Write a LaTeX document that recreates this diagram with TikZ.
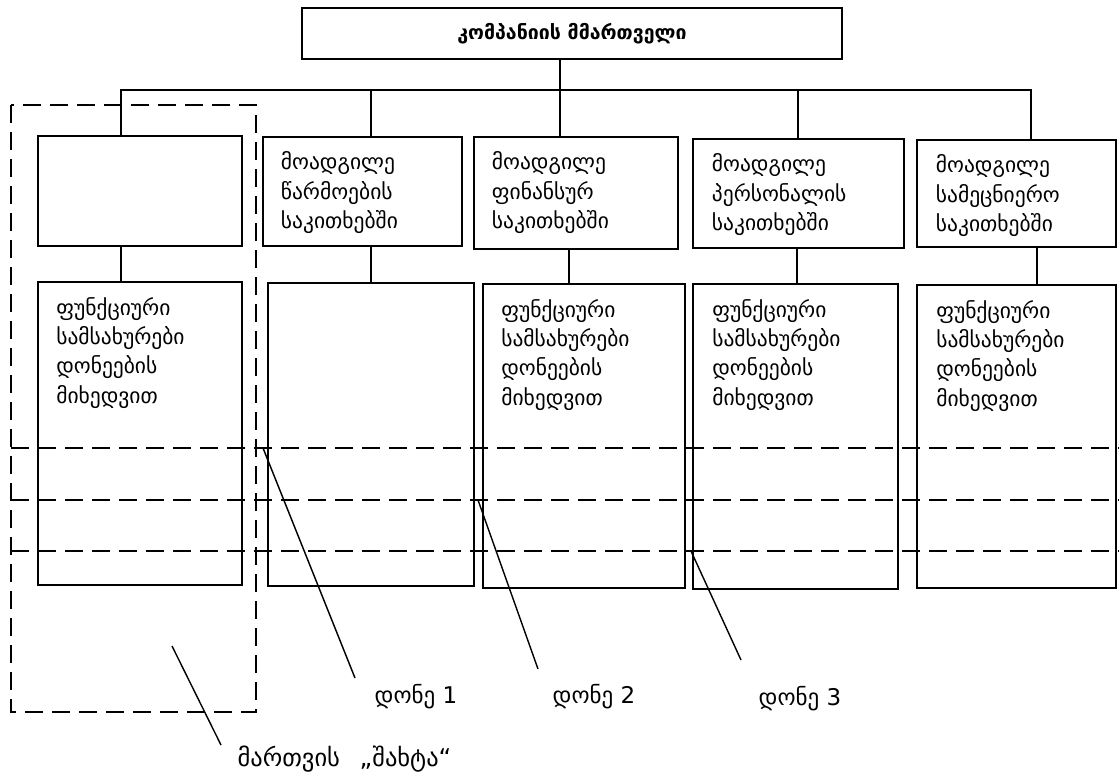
\documentclass[tikz,border=0pt]{standalone}
\usepackage{fontspec}
\setmainfont{DejaVu Sans}
\begin{document}
\begin{tikzpicture}[x=1pt,y=-1pt,
  ubox/.style={draw, line width=2.6pt, inner sep=0pt},
  lbox/.style={draw, line width=1.8pt, inner sep=0pt},
  conn/.style={line width=1.5pt},
  lvl/.style={line width=1.8pt, dash pattern=on 18pt off 9pt},
  lead/.style={line width=1.4pt},
  txt/.style={align=left, inner sep=0pt, anchor=north west, font=\fontsize{21.5}{29.3}\selectfont},
  lab/.style={inner sep=0pt, font=\fontsize{23}{26}\selectfont}]
\useasboundingbox (0,0) rectangle (1119,773);

% top box
\node[ubox, minimum width=540pt, minimum height=51pt, font=\bfseries\fontsize{19.5}{22}\selectfont] (top) at (572,33.5) {კომპანიის მმართველი};

% upper row
\node[ubox, minimum width=204pt, minimum height=110pt] (u1) at (140,191) {};
\node[ubox, minimum width=199pt, minimum height=109pt] (u2) at (362.5,191.5) {};
\node[ubox, minimum width=204pt, minimum height=112pt] (u3) at (576,193) {};
\node[ubox, minimum width=211pt, minimum height=109pt] (u4) at (798.5,193.5) {};
\node[ubox, minimum width=199pt, minimum height=107pt] (u5) at (1016.5,193.5) {};

% lower row
\node[lbox, minimum width=204pt, minimum height=303pt] (l1) at (140,433.5) {};
\node[lbox, minimum width=206pt, minimum height=303pt] (l2) at (371,434.5) {};
\node[lbox, minimum width=202pt, minimum height=304pt] (l3) at (584,436) {};
\node[lbox, minimum width=205pt, minimum height=305pt] (l4) at (795.5,436.5) {};
\node[lbox, minimum width=199pt, minimum height=303pt] (l5) at (1016.5,436.5) {};

% texts
\node[txt] (tu2) at ([shift={(19,16)}]u2.north west) {მოადგილე\\წარმოების\\საკითხებში};
\node[txt] (tu3) at ([shift={(19,16)}]u3.north west) {მოადგილე\\ფინანსურ\\საკითხებში};
\node[txt] (tu4) at ([shift={(20,16)}]u4.north west) {მოადგილე\\პერსონალის\\საკითხებში};
\node[txt] (tu5) at ([shift={(20,16)}]u5.north west) {მოადგილე\\სამეცნიერო\\საკითხებში};
\node[txt] (tl1) at ([shift={(19,16)}]l1.north west) {ფუნქციური\\სამსახურები\\დონეების\\მიხედვით};
\node[txt] (tl3) at ([shift={(19,16)}]l3.north west) {ფუნქციური\\სამსახურები\\დონეების\\მიხედვით};
\node[txt] (tl4) at ([shift={(20,16)}]l4.north west) {ფუნქციური\\სამსახურები\\დონეების\\მიხედვით};
\node[txt] (tl5) at ([shift={(20,16)}]l5.north west) {ფუნქციური\\სამსახურები\\დონეების\\მიხედვით};

% bus
\coordinate (b1) at (121,90);
\coordinate (b2) at (371,90);
\coordinate (b3) at (560,90);
\coordinate (b4) at (798,90);
\coordinate (b5) at (1031,90);
\draw[conn] (u1.north -| b1) -- (b1) -- (b5) -- (u5.north -| b5);
\draw[conn] (b2) -- (u2.north -| b2);
\draw[conn] (top.south -| b3) -- (u3.north -| b3);
\draw[conn] (b4) -- (u4.north -| b4);

% upper to lower
\coordinate (k1) at (121,0);
\coordinate (k2) at (371,0);
\coordinate (k3) at (569,0);
\coordinate (k4) at (797,0);
\coordinate (k5) at (1037,0);
\draw[conn] (u1.south -| k1) -- (l1.north -| k1);
\draw[conn] (u2.south -| k2) -- (l2.north -| k2);
\draw[conn] (u3.south -| k3) -- (l3.north -| k3);
\draw[conn] (u4.south -| k4) -- (l4.north -| k4);
\draw[conn] (u5.south -| k5) -- (l5.north -| k5);

% level lines
\coordinate (h1L) at (11,448); \coordinate (h1R) at (1119,448);
\coordinate (h2L) at (11,500); \coordinate (h2R) at (1119,500);
\coordinate (h3L) at (11,551); \coordinate (h3R) at (1119,551);
\draw[lvl] (h1L) -- (h1R);
\draw[lvl] (h2L) -- (h2R);
\draw[lvl] (h3L) -- (h3R);

% shaft
\coordinate (shA) at (11,105);
\coordinate (shB) at (256,712);
\draw[lvl] (shA) rectangle (shB);

% labels and leaders
\node[lab] (d1) at (416,697) {დონე 1};
\node[lab] (d2) at (594,697) {დონე 2};
\node[lab] (d3) at (800,699) {დონე 3};
\node[lab, font=\fontsize{24.5}{28}\selectfont] (sh) at (344.5,759) {მართვის\hspace{0.8em}„შახტა“};
\coordinate (s1) at (263,448); \coordinate (e1) at (355,678);
\coordinate (s2) at (478,500); \coordinate (e2) at (538,669);
\coordinate (s3) at (691,551); \coordinate (e3) at (741,660);
\coordinate (s4) at (172,646); \coordinate (e4) at (221,745);
\draw[lead] (s1) -- (e1);
\draw[lead] (s2) -- (e2);
\draw[lead] (s3) -- (e3);
\draw[lead] (s4) -- (e4);
\end{tikzpicture}
\end{document}
